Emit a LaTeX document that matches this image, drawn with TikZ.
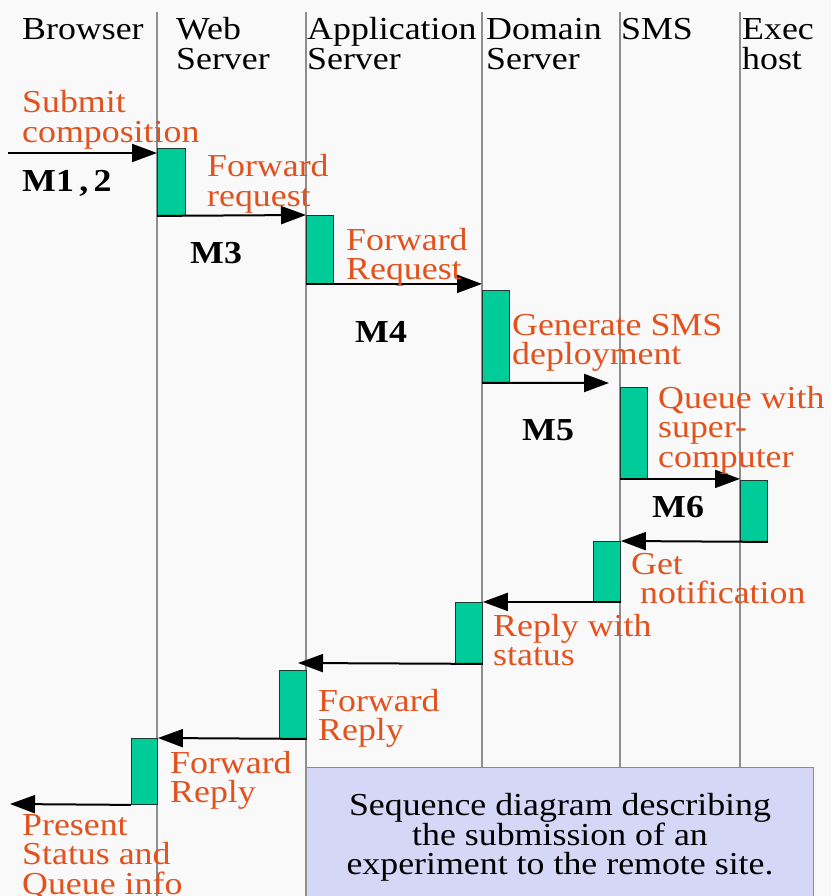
\documentclass[tikz,border=0pt]{standalone}
\usepackage{fontspec}
\setmainfont{Liberation Serif}[FakeStretch=1.12]
\usetikzlibrary{arrows.meta}
\definecolor{paper}{HTML}{F9F9F9}
\definecolor{lifegray}{HTML}{8E8E8E}
\definecolor{actgreen}{HTML}{00CC99}
\definecolor{actedge}{HTML}{1E3A30}
\definecolor{msgred}{RGB}{226,82,30}
\definecolor{notefill}{HTML}{D6D6F6}
\definecolor{noteedge}{HTML}{8A8A8A}
\begin{document}
\begin{tikzpicture}[x=1pt,y=-1pt,
  txt/.style={inner sep=0pt,anchor=base west,align=left,
    font=\fontsize{32}{29.5}\selectfont},
  head/.style={txt,text=black},
  lbl/.style={txt,text=msgred},
  mlbl/.style={txt,text=black,font=\fontsize{32}{29.5}\selectfont\bfseries},
  lifeline/.style={draw=lifegray,line width=2.4pt},
  actbox/.style={draw=actedge,line width=0.9pt,fill=actgreen,inner sep=0pt,
    anchor=north west},
  msg/.style={draw=black,line width=2pt,-{Triangle[length=25pt,width=18pt]}},
  notebox/.style={draw=noteedge,line width=1pt,fill=notefill,inner sep=0pt,
    anchor=north west,align=center,text=black,
    font=\fontsize{32}{29.5}\selectfont}]
\useasboundingbox (0,0) rectangle (831,896);
\clip (0,0) rectangle (831,896);
\fill[paper] (0,0) rectangle (831,896);

% lifelines
\coordinate (L1) at (157,12);
\coordinate (L2) at (306,12);
\coordinate (L3) at (482,12);
\coordinate (L4) at (620,12);
\coordinate (L5) at (740,12);
\coordinate (L1end) at (157,896);
\coordinate (L2end) at (306,896);

% note box at the bottom
\node[notebox,minimum width=507pt,minimum height=140pt] (note) at (306,767)
  {Sequence diagram describing\\the submission of an\\experiment to the remote site.};

\draw[lifeline] (L1) -- (L1end);
\draw[lifeline] (L2) -- (L2end);
\draw[lifeline] (L3) -- (L3 |- note.north);
\draw[lifeline] (L4) -- (L4 |- note.north);
\draw[lifeline] (L5) -- (L5 |- note.north);

% column headings (a multi-line node sits on its last baseline)
\node[head] (hBrowser) at (22,40) {Browser};
\node[head] (hWeb) at (176,69.5) {Web\\Server};
\node[head] (hApp) at (307,69.5) {Application\\Server};
\node[head] (hDomain) at (486,69.5) {Domain\\Server};
\node[head] (hSMS) at (621,40) {SMS};
\node[head] (hExec) at (742,69.5) {Exec\\host};

% activation bars, request path
\node[actbox,minimum width=28pt,minimum height=67pt] (a1) at (157,148) {};
\node[actbox,minimum width=27pt,minimum height=68pt] (a2) at (306,215) {};
\node[actbox,minimum width=27pt,minimum height=92pt] (a3) at (482,290) {};
\node[actbox,minimum width=27pt,minimum height=91pt] (a4) at (620,387) {};
\node[actbox,minimum width=27pt,minimum height=61pt] (a5) at (740,480) {};
% activation bars, reply path
\node[actbox,minimum width=27pt,minimum height=60pt] (r1) at (593,541) {};
\node[actbox,minimum width=27pt,minimum height=61pt] (r2) at (455,602) {};
\node[actbox,minimum width=27pt,minimum height=68pt] (r3) at (279,670) {};
\node[actbox,minimum width=26pt,minimum height=66pt] (r4) at (131,738) {};

% free ends of messages
\coordinate (in0) at (8,153);
\coordinate (m5end) at (609,383);
\coordinate (ret3end) at (298,663);
\coordinate (out0) at (10,804);

% request messages
\draw[msg] (in0) -- (in0 -| a1.west);
\draw[msg] (a1.south west) -- (a2.north west);
\draw[msg] (a2.south west) -- (a2.south west -| a3.west);
\draw[msg] (a3.south west) -- (m5end);
\draw[msg] (a4.south west) -- (a4.south west -| a5.west);
% reply messages
\draw[msg] (a5.south east) -- (r1.north east);
\draw[msg] (r1.south east) -- (r1.south east -| r2.east);
\draw[msg] (r2.south east) -- (ret3end);
\draw[msg] (r3.south east) -- (r4.north east);
\draw[msg] (r4.south west) -- (out0);

% message captions
\node[lbl] (tSubmit) at (22,142.5) {Submit\\composition};
\node[mlbl] (tM12) at (22,191) {M1\,,\,2};
\node[lbl] (tFwd1) at (207,206.5) {Forward\\request};
\node[mlbl] (tM3) at (190,263) {M3};
\node[lbl] (tFwd2) at (346,279.5) {Forward\\Request};
\node[mlbl] (tM4) at (355,342) {M4};
\node[lbl] (tGen) at (512,364.5) {Generate SMS\\deployment};
\node[mlbl] (tM5) at (522,440) {M5};
\node[lbl] (tQueue) at (658,467) {Queue with\\super-\\computer};
\node[mlbl] (tM6) at (652,517) {M6};
\node[lbl] (tGet) at (631,574) {Get};
\node[lbl] (tNotif) at (640,603) {notification};
\node[lbl] (tReply) at (493,665.5) {Reply with\\status};
\node[lbl] (tFwd3) at (318,740.5) {Forward\\Reply};
\node[lbl] (tFwd4) at (170,802.5) {Forward\\Reply};
\node[lbl] (tPresent) at (22,894) {Present\\Status and\\Queue info};
\end{tikzpicture}
\end{document}
